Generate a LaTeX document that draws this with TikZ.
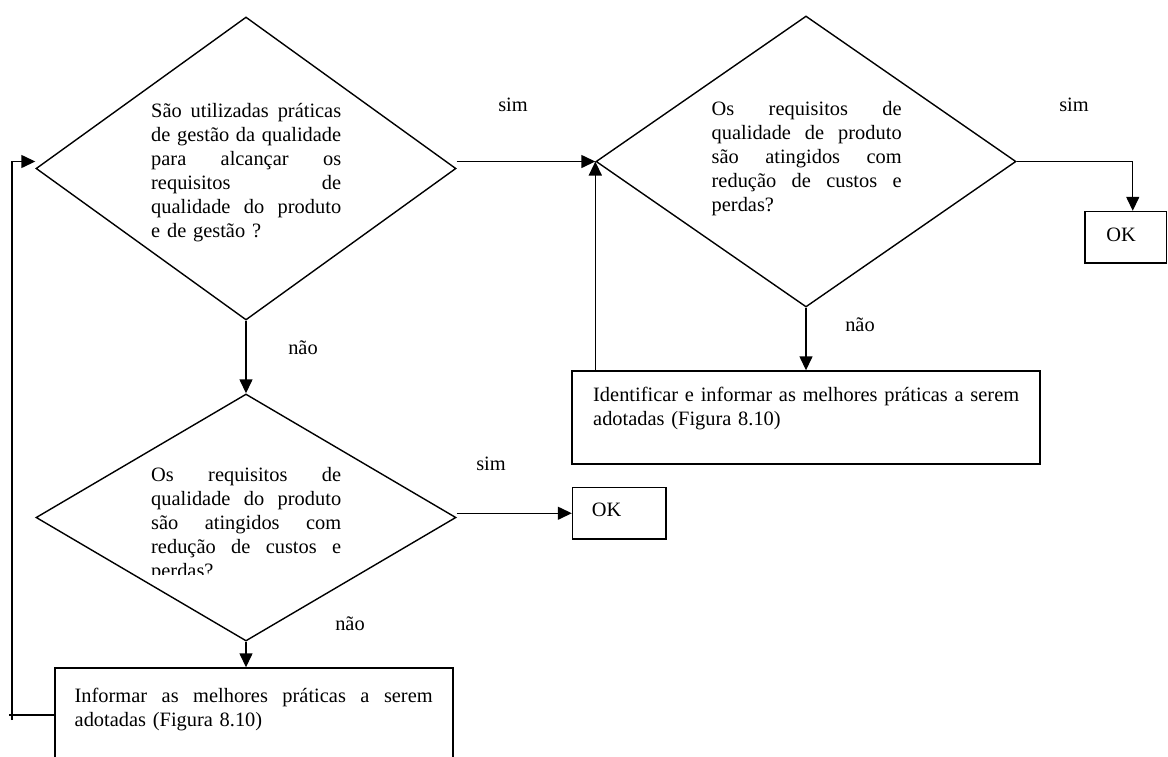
\documentclass[tikz,border=0pt]{standalone}
\usepackage{fontspec}
\setmainfont{Liberation Serif}
\usetikzlibrary{arrows.meta,shapes.geometric,calc}
% a justified line of a given width (spaces stretched to fill it);
% the ragged alignment of the node fixes \spaceskip, so reset it here
\newcommand{\jline}[2][190pt]{{\spaceskip=0pt\xspaceskip=0pt\makebox[#1][s]{#2}}}

\begin{document}
\begin{tikzpicture}[x=1pt,y=-1pt,
  line width=1.4pt,
  every node/.style={font=\fontsize{20.4}{24}\selectfont},
  decision/.style={draw, diamond, inner sep=0pt},
  stepbox/.style={draw, rectangle, inner sep=0pt},
  qtext/.style={text width=#1, inner sep=0pt, align=left, anchor=base west},
  lbl/.style={inner sep=0pt, anchor=base},
  arr/.style={-{Triangle[length=14pt,width=13pt]}}]

\useasboundingbox (0,0) rectangle (1168,756);
\clip (0,0) rectangle (1168,756);

% decisions
\node[decision, minimum width=420pt, minimum height=303pt] (D1) at (246,168.5) {};
\node[decision, minimum width=420pt, minimum height=247pt] (D2) at (246,517.5) {};
\node[decision, minimum width=420pt, minimum height=291pt] (D3) at (806,161.5) {};

% action boxes
\node[stepbox, minimum width=468pt, minimum height=93pt] (B2) at (806,417.5) {};
\node[stepbox, minimum width=398pt, minimum height=94pt] (B1) at (254,715) {};
\node[stepbox, minimum width=93.5pt, minimum height=51.5pt] (OK1) at (619.25,513.25) {};
\node[stepbox, minimum width=81.5pt, minimum height=51.5pt] (OK2) at (1125.75,237.25) {};

% texts
\node[qtext=190pt] (T1) at (150.5,117) {%
  \jline{São utilizadas práticas}\\
  \jline{de gestão da qualidade}\\
  \jline{para alcançar os}\\
  \jline{requisitos de}\\
  \jline{qualidade do produto}\\
  e de gestão ?};
\begin{scope}
  \clip (100,440) rectangle (420,574);
  \node[qtext=190pt] (T2) at (150.5,481) {%
    \jline{Os requisitos de}\\
    \jline{qualidade do produto}\\
    \jline{são atingidos com}\\
    \jline{redução de custos e}\\
    perdas?};
\end{scope}
\node[qtext=190pt] (T3) at (711,115) {%
  \jline{Os requisitos de}\\
  \jline{qualidade de produto}\\
  \jline{são atingidos com}\\
  \jline{redução de custos e}\\
  perdas?};
\node[qtext=440pt] (T4) at (592.5,401.5) {%
  Identificar e informar as melhores práticas a serem\\
  adotadas (Figura 8.10)};
\node[qtext=358pt] (T5) at (74,702.5) {%
  \jline[358pt]{Informar as melhores práticas a serem}\\
  adotadas (Figura 8.10)};
\node[lbl] (OKt1) at (606.7,516.7) {OK};
\node[lbl] (OKt2) at (1121,241.7) {OK};

% branch labels
\node[lbl] (s1) at (513,111.5) {sim};
\node[lbl] (s2) at (1074,111.5) {sim};
\node[lbl] (s3) at (491,470) {sim};
\node[lbl] (n1) at (303,354) {não};
\node[lbl] (n2) at (350,630) {não};
\node[lbl] (n3) at (860,331) {não};

% connectors
\draw[arr] (D1.south) -- (D2.north);
\draw[arr] (D1.east |- D3.west) -- (D3.west);
\draw[arr] (D3.east) -| ([xshift=7pt]OK2.north);
\draw[arr] (D3.south) -- (B2.north);
\draw[arr] (B2.north -| D3.west) -- (D3.west);
\draw[arr] (D2.east |- OK1.west) -- (OK1.west);
\draw[arr] (D2.south) -- (D2.south |- B1.north);

% feedback loop back to the first question
\coordinate (fbL) at (9,715);
\coordinate (fb) at (12,720);
\draw (B1.west) -- (fbL);
\draw[arr] (fb) |- (D1.west |- D3.west);
\end{tikzpicture}
\end{document}
